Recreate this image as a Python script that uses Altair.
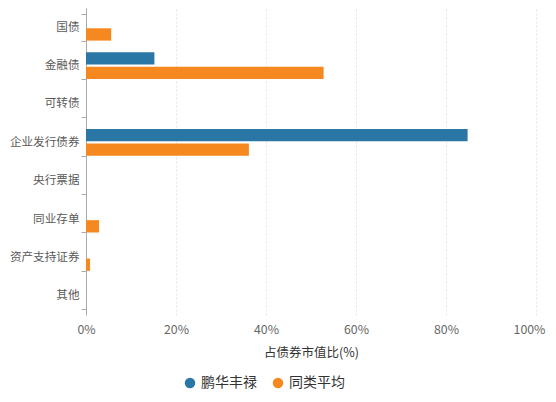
import altair as alt
import pandas as pd

categories = ["国债", "金融债", "可转债", "企业发行债券", "央行票据", "同业存单", "资产支持证券", "其他"]
series_names = ["鹏华丰禄", "同类平均"]
fund_values = [0, 15.2, 0, 84.8, 0, 0, 0, 0]
peer_values = [5.6, 52.8, 0, 36.2, 0, 2.9, 0.9, 0]
colors = ["#2a76a4", "#f5891f"]

rows = []
for c, f, p in zip(categories, fund_values, peer_values):
    rows.append({"category": c, "series": series_names[0], "value": f})
    rows.append({"category": c, "series": series_names[1], "value": p})
df = pd.DataFrame(rows)

FONT = "Noto Sans CJK SC"

chart = alt.Chart(df).mark_bar().encode(
    y=alt.Y("category:N", sort=categories,
            scale=alt.Scale(paddingInner=0.3, paddingOuter=0.15),
            axis=alt.Axis(title=None, tickBand="extent", tickSize=5, tickColor="#aaaaaa",
                          domainColor="#aaaaaa", labelColor="#595959", labelFontSize=11.6,
                          labelFont=FONT, labelPadding=2, grid=False)),
    yOffset=alt.YOffset("series:N", sort=series_names, scale=alt.Scale(paddingInner=0.15)),
    x=alt.X("value:Q", scale=alt.Scale(domain=[0, 100], nice=False),
            axis=alt.Axis(title="占债券市值比(%)", values=[0, 20, 40, 60, 80, 100],
                          labelExpr="datum.value + '%'", ticks=False, domain=False,
                          labelFlush=False,
                          labelOffset={"condition": {"test": "datum.value == 100", "value": -7}, "value": 0},
                          grid=True, gridColor="#e6e6e6", gridDash=[2, 2],
                          labelColor="#666666", labelFontSize=12.3, labelFont=FONT,
                          labelPadding=8, titleFont=FONT, titleFontSize=12.5,
                          titleColor="#333333", titleFontWeight="normal", titlePadding=11)),
    color=alt.Color("series:N", sort=series_names,
                    scale=alt.Scale(domain=series_names, range=colors),
                    legend=alt.Legend(title=None, orient="none", direction="horizontal",
                                      legendX=97, legendY=368, symbolType="circle",
                                      symbolSize=110, labelFontSize=14, labelFont=FONT,
                                      labelColor="#333333", columnPadding=14,
                                      symbolStrokeWidth=0)),
).properties(
    width=450, height=307,
    autosize=alt.AutoSizeParams(type="none"),
    padding={"left": 78, "top": 0, "right": 12, "bottom": 78},
).configure_view(stroke=None)

chart.save("out.html", embed_options={"renderer": "svg", "actions": False})
